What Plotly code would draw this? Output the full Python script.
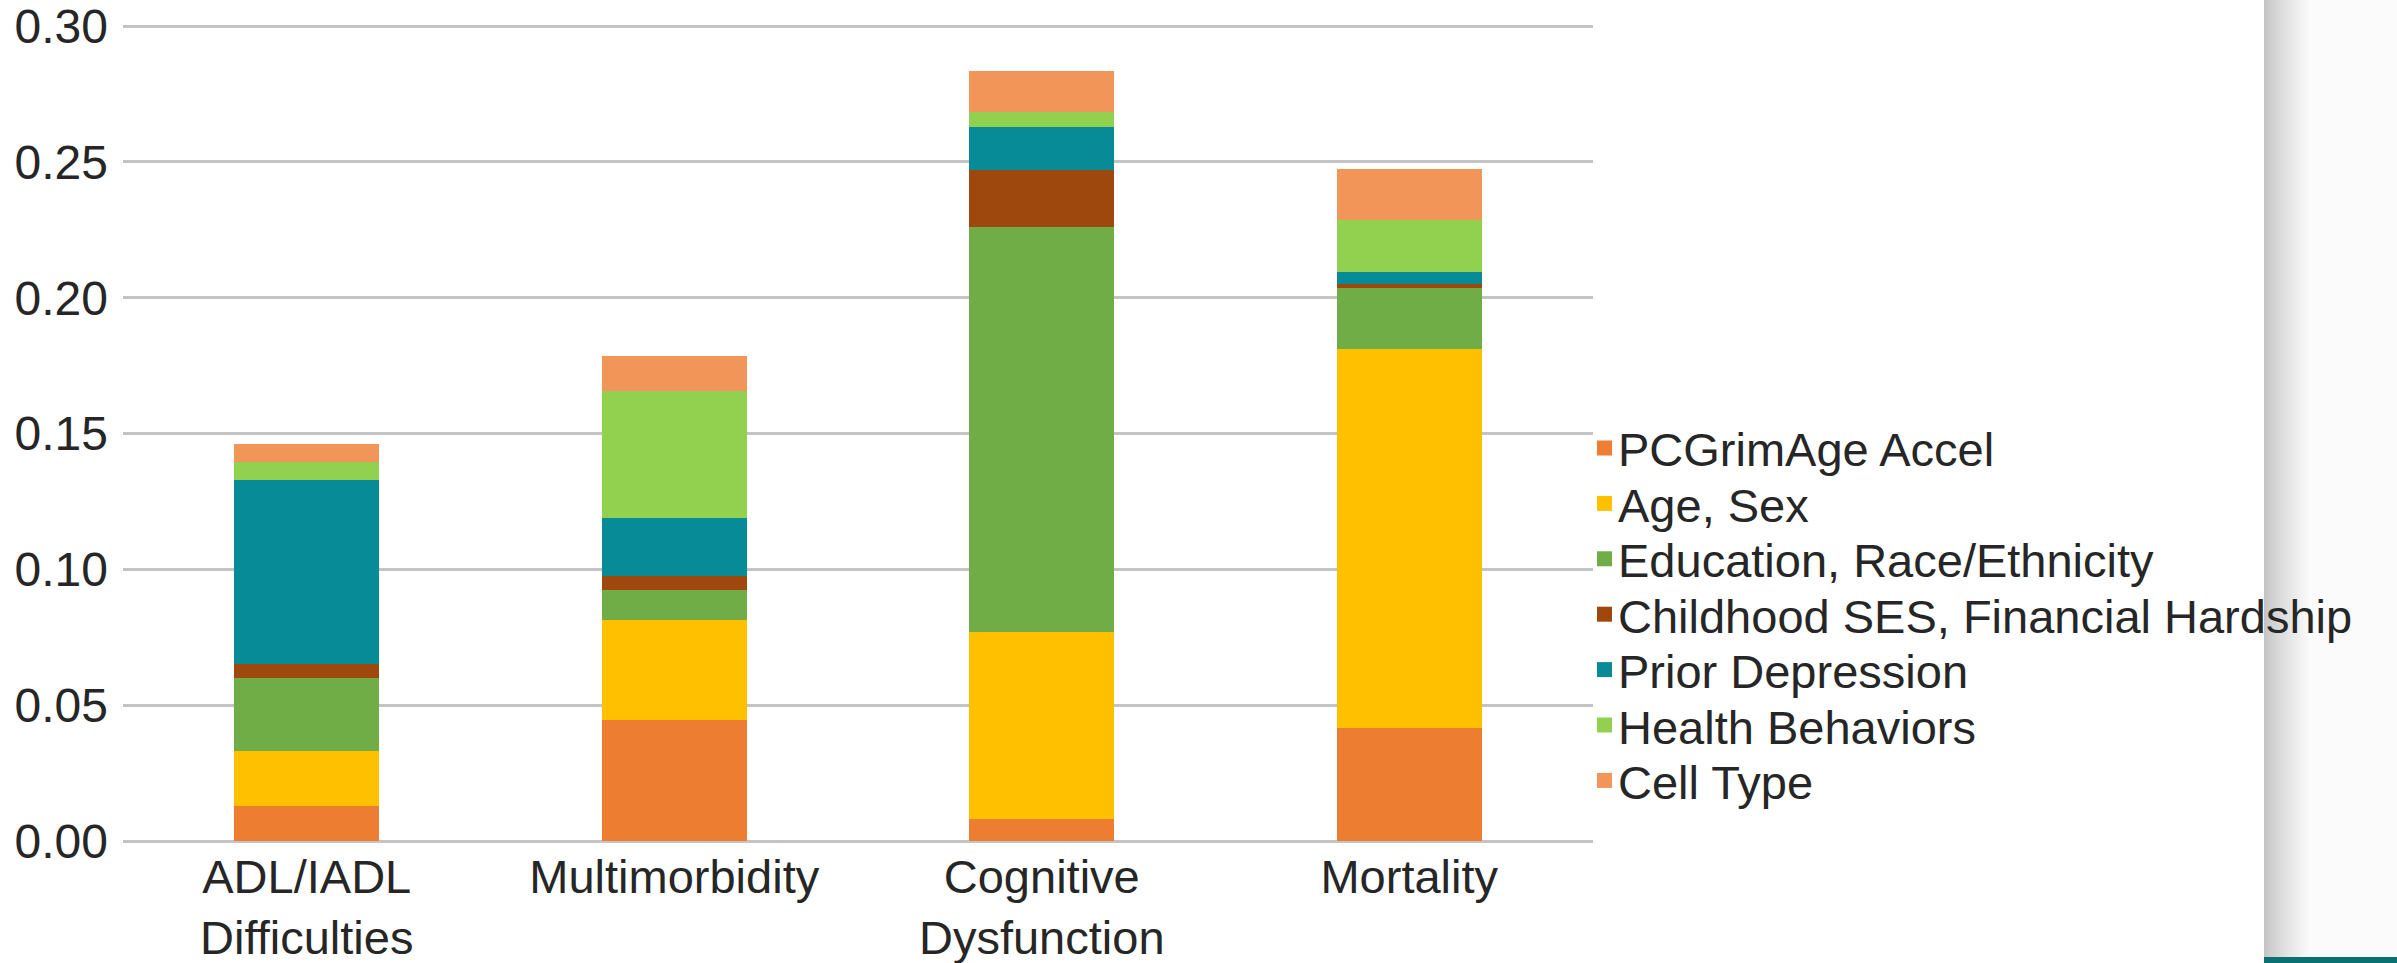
import plotly.graph_objects as go

# Outcomes on the x axis
categories = ["ADL/IADL<br>Difficulties", "Multimorbidity", "Cognitive<br>Dysfunction", "Mortality"]

# Variance explained by each block of predictors (stacked)
pcgrimage_accel = [0.013, 0.0445, 0.008, 0.0415]
age_sex = [0.020, 0.037, 0.069, 0.1395]
education_race = [0.027, 0.011, 0.149, 0.0225]
childhood_ses = [0.005, 0.005, 0.021, 0.0015]
prior_depression = [0.068, 0.0215, 0.016, 0.0045]
health_behaviors = [0.0065, 0.0465, 0.0055, 0.019]
cell_type = [0.0065, 0.013, 0.015, 0.019]

series_names = [
    "PCGrimAge Accel",
    "Age, Sex",
    "Education, Race/Ethnicity",
    "Childhood SES, Financial Hardship",
    "Prior Depression",
    "Health Behaviors",
    "Cell Type",
]
series_values = [pcgrimage_accel, age_sex, education_race, childhood_ses,
                 prior_depression, health_behaviors, cell_type]
series_colors = ["#ED7D31", "#FFC000", "#70AD47", "#9E480E", "#078B96", "#92D050", "#F19658"]

y_ticks = [0.0, 0.05, 0.10, 0.15, 0.20, 0.25, 0.30]
y_range = [0, 0.3015]

W, H = 2397, 963
L, R, T, B = 123, 804, 22, 122
plot_w = W - L - R
plot_h = H - T - B
FONT = "Liberation Sans, Arial, sans-serif"
TEXT_COLOR = "#262626"


def px_to_paper_x(px):
    return (px - L) / plot_w


def px_to_paper_y(py):
    return (H - B - py) / plot_h


fig = go.Figure()
for name, vals, col in zip(series_names, series_values, series_colors):
    fig.add_trace(go.Bar(
        x=categories, y=vals, name=name,
        marker=dict(color=col, line=dict(width=0)),
        showlegend=False,
    ))

shapes = []
annotations = []

# Legend drawn as coloured squares with labels to the right of the plot
leg_x_marker = 1597
leg_size = 15
leg_x_text = 1616
leg_y0 = 448
leg_step = 55.4
for i, (name, col) in enumerate(zip(series_names, series_colors)):
    cy = leg_y0 + i * leg_step
    shapes.append(dict(
        type="rect", xref="paper", yref="paper",
        x0=px_to_paper_x(leg_x_marker), x1=px_to_paper_x(leg_x_marker + leg_size),
        y0=px_to_paper_y(cy + leg_size / 2), y1=px_to_paper_y(cy - leg_size / 2),
        fillcolor=col, line=dict(width=0), layer="above",
    ))
    annotations.append(dict(
        text=name, xref="paper", yref="paper",
        x=px_to_paper_x(leg_x_text), y=px_to_paper_y(cy + 2),
        xanchor="left", yanchor="middle", showarrow=False,
        font=dict(family=FONT, size=47, color=TEXT_COLOR),
    ))

# Shaded side panel at the right edge with a soft gradient
panel_x0 = 2264
grad_steps = 24
for k in range(grad_steps):
    x0 = panel_x0 + k * 2
    t = k / (grad_steps - 1)
    g = int(196 + (252 - 196) * (t ** 0.8))
    shapes.append(dict(
        type="rect", xref="paper", yref="paper",
        x0=px_to_paper_x(x0), x1=px_to_paper_x(x0 + 2.6),
        y0=px_to_paper_y(H), y1=px_to_paper_y(0),
        fillcolor=f"rgb({g},{g},{g})", line=dict(width=0), layer="below",
    ))
shapes.append(dict(
    type="rect", xref="paper", yref="paper",
    x0=px_to_paper_x(panel_x0 + grad_steps * 2), x1=px_to_paper_x(W),
    y0=px_to_paper_y(H), y1=px_to_paper_y(0),
    fillcolor="#fbfbfb", line=dict(width=0), layer="below",
))
shapes.append(dict(
    type="rect", xref="paper", yref="paper",
    x0=px_to_paper_x(panel_x0), x1=px_to_paper_x(W),
    y0=px_to_paper_y(H), y1=px_to_paper_y(957),
    fillcolor="#0b7072", line=dict(width=0), layer="above",
))

fig.update_layout(
    width=W, height=H,
    margin=dict(l=L, r=R, t=T, b=B, pad=0, autoexpand=False),
    barmode="stack",
    bargap=0.605,
    paper_bgcolor="white",
    plot_bgcolor="white",
    font=dict(family=FONT, size=47, color=TEXT_COLOR),
    showlegend=False,
    shapes=shapes,
    annotations=annotations,
    xaxis=dict(
        showgrid=False, showline=False, ticks="",
        automargin=False,
        ticklabelstandoff=4,
        ticklabeloverflow="allow",
        tickfont=dict(family=FONT, size=47, color=TEXT_COLOR),
        fixedrange=True,
    ),
    yaxis=dict(
        range=y_range,
        tickvals=y_ticks,
        tickformat=".2f",
        automargin=False,
        ticklabeloverflow="allow",
        showgrid=True, gridcolor="#c4c4c4", gridwidth=3,
        zeroline=True, zerolinecolor="#c4c4c4", zerolinewidth=3,
        showline=False, ticks="",
        ticklabelstandoff=14,
        tickfont=dict(family=FONT, size=48, color=TEXT_COLOR),
        fixedrange=True,
    ),
)

fig.write_html("out.html", include_plotlyjs=True, config={"displayModeBar": False})
